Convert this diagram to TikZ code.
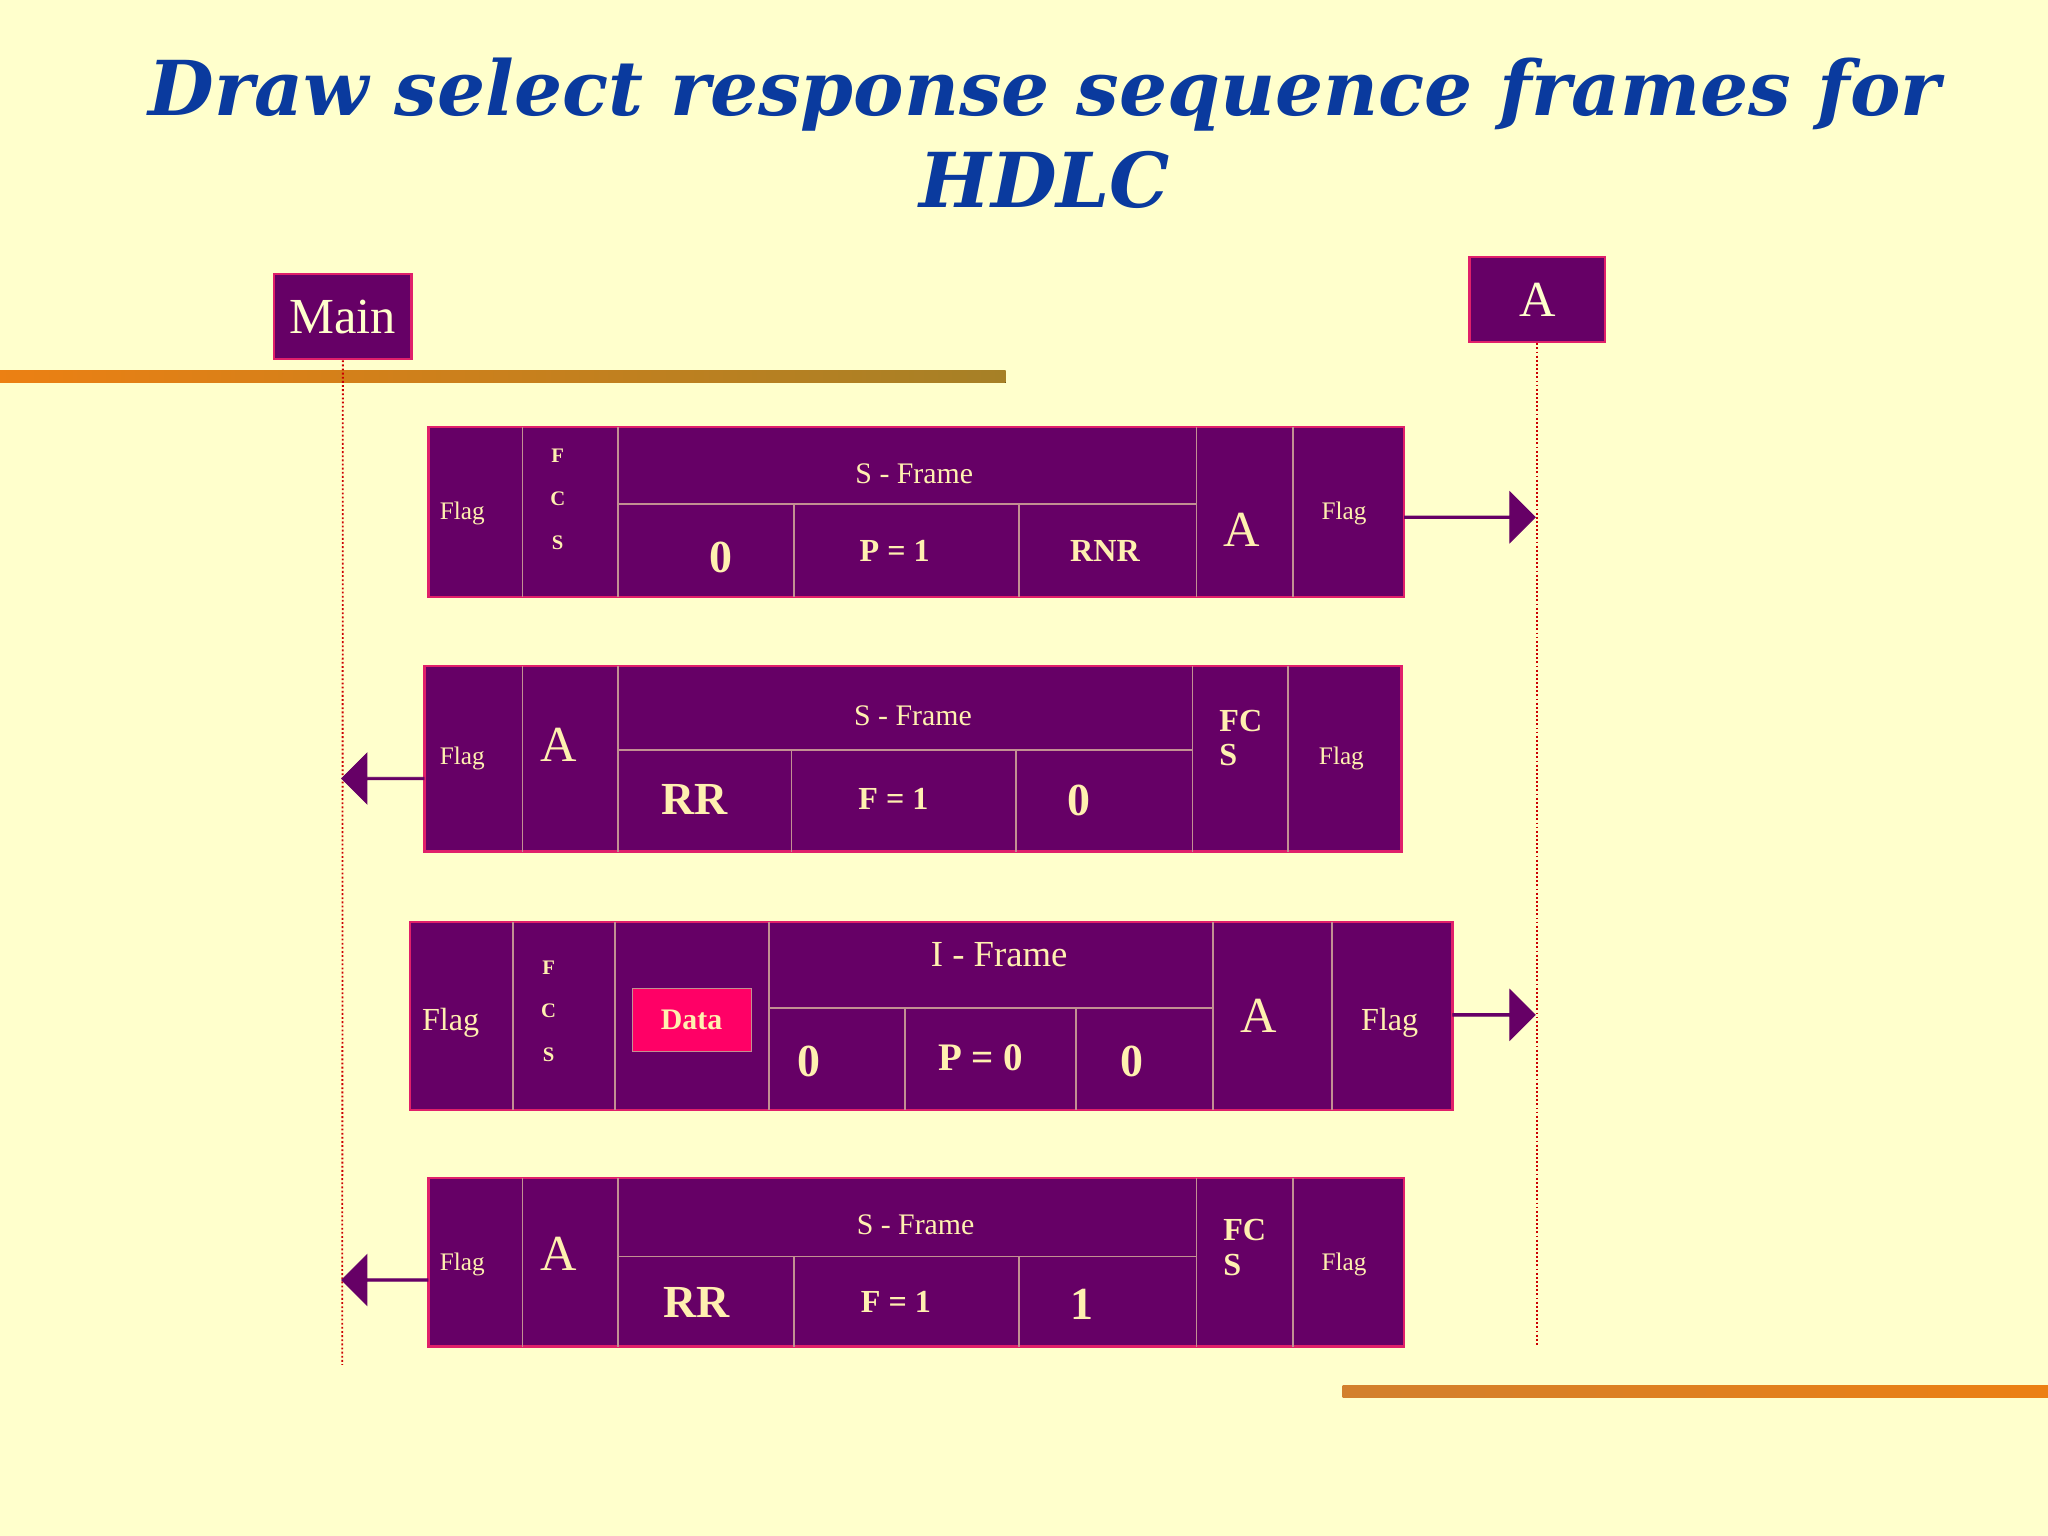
\documentclass[tikz,border=0pt]{standalone}
\usepackage{fontspec}
\setmainfont{Liberation Serif}
\newfontfamily\titlefont{DejaVu Serif}
\usetikzlibrary{shapes.arrows}
\definecolor{bg}{HTML}{FFFFCC}
\definecolor{fr}{HTML}{660066}
\definecolor{bd}{HTML}{E0206A}
\definecolor{tx}{HTML}{FFF0B0}
\definecolor{ttl}{HTML}{0A3A9E}
\begin{document}
\begin{tikzpicture}[x=0.02cm,y=-0.02cm,
  box/.style={fill=fr,draw=bd,line width=1pt},
  sep/.style={draw=tx!60!fr,line width=0.8pt},
  sm/.style={text=tx,font=\fontsize{11}{12}\selectfont},
  md/.style={text=tx,font=\fontsize{13}{14}\selectfont},
  bb/.style={text=tx,font=\bfseries\fontsize{14}{15}\selectfont},
  bg2/.style={text=tx,font=\bfseries\fontsize{20}{22}\selectfont},
  aa/.style={text=tx,font=\fontsize{22}{24}\selectfont},
  fcs/.style={text=tx,font=\bfseries\fontsize{9}{19}\selectfont,align=center},
  arr/.style={single arrow,fill=fr,draw=fr,minimum height=#1,single arrow head extend=4pt,minimum width=22pt,inner sep=0pt}]
\fill[bg] (0,0) rectangle (1568,1176);
% title
\node[text=ttl,font=\titlefont\bfseries\itshape\fontsize{33}{40}\selectfont,align=center] (title) at (800,102) {Draw select response sequence frames for\\HDLC};
% decorative bars
\fill[left color=orange!70!brown,right color=brown!60!olive] (0,284) rectangle (770,293);
\fill[left color=brown!70!orange,right color=orange!70!brown] (1028,1061) rectangle (1568,1070);
\node[text=yellow!60!green,font=\fontsize{16}{16}\selectfont] (chk) at (72,352) {\symbol{"2713}};
% stations
\node[fill=fr,draw=bd,line width=1pt,minimum width=105*0.02cm,minimum height=65*0.02cm,text=bg,font=\fontsize{22}{24}\selectfont] (main) at (262.5,242.5) {Main};
\node[fill=fr,draw=bd,line width=1pt,minimum width=104*0.02cm,minimum height=65*0.02cm,text=bg,font=\fontsize{22}{24}\selectfont] (sa) at (1177,229.5) {A};
\coordinate (mb) at (262,1045);
\coordinate (ab) at (1177,1030);
\draw[red!80!black,densely dotted,line width=0.8pt] (main.south) -- (mb);
\draw[red!80!black,densely dotted,line width=0.8pt] (sa.south) -- (ab);
% Frame 1
\draw[box] (328,327) rectangle (1075,457);
\draw[sep] (400,327)--(400,457) (473,327)--(473,457) (916,327)--(916,457) (990,327)--(990,457)
  (473,386)--(916,386) (608,386)--(608,457) (780,386)--(780,457);
\node[sm] (f1a) at (354,393) {Flag};
\node[fcs] (f1b) at (427,382) {F\\C\\S};
\node[md] (f1c) at (700,363) {S - Frame};
\node[bg2] (f1d) at (552,427) {0};
\node[bb] (f1e) at (685,422) {P = 1};
\node[bb] (f1f) at (846,422) {RNR};
\node[aa] (f1g) at (951,406) {A};
\node[sm] (f1h) at (1029,393) {Flag};
\node[arr=100*0.02cm,anchor=tail] (r1) at (1075,396) {};
% Frame 2
\draw[box] (325,510) rectangle (1073,652);
\draw[sep] (400,510)--(400,652) (473,510)--(473,652) (913,510)--(913,652) (986,510)--(986,652)
  (473,574)--(913,574) (606,574)--(606,652) (778,574)--(778,652);
\node[sm] (f2a) at (354,581) {Flag};
\node[aa] (f2b) at (428,570) {A};
\node[md] (f2c) at (699,548) {S - Frame};
\node[bg2] (f2d) at (532,612) {RR};
\node[bb] (f2e) at (684,612) {F = 1};
\node[bg2] (f2f) at (826,613) {0};
\node[bb,align=left] (f2g) at (950,565) {FC\\S};
\node[sm] (f2h) at (1027,581) {Flag};
\node[arr=63*0.02cm,anchor=tail,shape border rotate=180] (l2) at (325,596) {};
% Frame 3
\draw[box] (314,706) rectangle (1112,850);
\draw[sep] (393,706)--(393,850) (471,706)--(471,850) (589,706)--(589,850) (929,706)--(929,850) (1020,706)--(1020,850)
  (589,772)--(929,772) (693,772)--(693,850) (824,772)--(824,850);
\node[md,font=\fontsize{14}{15}\selectfont] (f3a) at (345,783) {Flag};
\node[fcs] (f3b) at (420,774) {F\\C\\S};
\node[fill=red!60!magenta,draw=tx!60!fr,minimum width=91*0.02cm,minimum height=48*0.02cm,inner sep=0pt,bb,font=\bfseries\fontsize{13}{14}\selectfont] (data) at (529.5,781) {Data};
\node[md,font=\fontsize{16}{17}\selectfont] (f3c) at (765,731) {I - Frame};
\node[bg2] (f3d) at (619,813) {0};
\node[bg2,font=\bfseries\fontsize{17}{18}\selectfont] (f3e) at (751,810) {P = 0};
\node[bg2] (f3f) at (867,813) {0};
\node[aa] (f3g) at (964,778) {A};
\node[md,font=\fontsize{14}{15}\selectfont] (f3h) at (1064,783) {Flag};
\node[arr=63*0.02cm,anchor=tail] (r3) at (1112,777) {};
% Frame 4
\draw[box] (328,902) rectangle (1075,1031);
\draw[sep] (400,902)--(400,1031) (473,902)--(473,1031) (916,902)--(916,1031) (990,902)--(990,1031)
  (473,962)--(916,962) (608,962)--(608,1031) (780,962)--(780,1031);
\node[sm] (f4a) at (354,968) {Flag};
\node[aa] (f4b) at (428,960) {A};
\node[md] (f4c) at (701,938) {S - Frame};
\node[bg2] (f4d) at (533,997) {RR};
\node[bb] (f4e) at (686,997) {F = 1};
\node[bg2] (f4f) at (828,999) {1};
\node[bb,align=left] (f4g) at (953,955) {FC\\S};
\node[sm] (f4h) at (1029,968) {Flag};
\node[arr=66*0.02cm,anchor=tail,shape border rotate=180] (l4) at (328,980) {};
\end{tikzpicture}
\end{document}
